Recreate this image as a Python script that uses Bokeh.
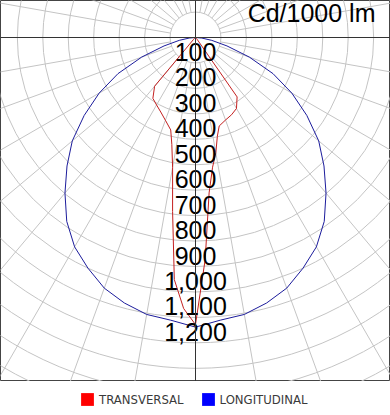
import numpy as np
from bokeh.plotting import figure
from bokeh.layouts import column
from bokeh.models import Range1d, Span, Label, Legend, LegendItem, ColumnDataSource
from bokeh.core.properties import value
from bokeh.embed import file_html
from bokeh.resources import INLINE

# ---------------- data ----------------
ring_values = [100, 200, 300, 400, 500, 600, 700, 800, 900, 1000, 1100, 1200]
ring_labels = ["100", "200", "300", "400", "500", "600", "700", "800", "900",
               "1,000", "1,100", "1,200"]

# LONGITUDINAL (symmetric), angle from nadir in degrees -> cd/1000 lm
blue_angles = [0, 5, 10, 15, 20, 25, 30, 35, 40, 45, 50, 55, 60, 65, 70, 75, 80, 85, 90]
blue_cd = [1138, 1115, 1105, 1080, 1048, 1000, 950, 882, 798, 714, 632, 534, 437,
           336, 225, 128, 65, 25, 0]

# TRANSVERSAL, negative angles = left half
red_angles = [-90, -85, -80, -75, -70, -65, -60, -55, -50, -45, -40, -35, -30, -25,
              -20, -15, -12.5, -10, -7.5, -5, -2.5, 0, 2.5, 5, 7.5, 10, 12.5, 15,
              20, 25, 30, 35, 40, 45, 50, 55, 60, 65, 70, 75, 80, 85, 90]
red_cd = [0, 0, 0, 0, 0, 0, 0, 2, 5, 12, 250, 292, 306, 323,
          346, 376, 430, 518, 690, 955, 1066, 1128, 873, 613, 514, 460, 397, 360,
          345, 335, 322, 285, 12, 5, 2, 0, 0, 0, 0, 0, 0, 0, 0]

unit_text = "Cd/1000 lm"
series_names = ["TRANSVERSAL", "LONGITUDINAL"]
series_line_colors = ["#c42020", "#1c1c9c"]
series_key_colors = ["#ff0000", "#0000ff"]

# ---------------- helpers ----------------
def polar_xy(angles_deg, values):
    a = np.radians(np.asarray(angles_deg, dtype=float))
    r = np.asarray(values, dtype=float)
    return r * np.sin(a), -r * np.cos(a)

PX_PER_CD = 0.2545
FRAME_W, FRAME_H = 390, 381
CX, CY = 195, 37  # centre position within the frame (px from left / top)

x_start = -CX / PX_PER_CD
x_end = (FRAME_W - CX) / PX_PER_CD
y_end = CY / PX_PER_CD
y_start = -(FRAME_H - CY) / PX_PER_CD

chart = figure(width=FRAME_W, height=FRAME_H, output_backend="svg", toolbar_location=None,
               x_range=Range1d(x_start, x_end), y_range=Range1d(y_start, y_end),
               x_axis_location=None, y_axis_location=None,
               min_border_left=0, min_border_right=0, min_border_top=0, min_border_bottom=0)
chart.grid.visible = False
chart.outline_line_color = "#444444"
chart.outline_line_width = 1
chart.background_fill_color = "white"
chart.border_fill_color = "white"

# polar grid: rings
grid_r = np.arange(100, 1700, 100)
chart.circle(x=np.zeros(len(grid_r)), y=np.zeros(len(grid_r)), radius=grid_r,
             fill_color=None, line_color="#c4c4c4", line_width=1)

# polar grid: spokes every 10 degrees
spoke_deg = np.array([d for d in range(0, 360, 10) if d % 90 != 0], dtype=float)
sx0, sy0 = polar_xy(spoke_deg, np.full(len(spoke_deg), 100.0))
sx1, sy1 = polar_xy(spoke_deg, np.full(len(spoke_deg), 1800.0))
chart.segment(x0=sx0, y0=sy0, x1=sx1, y1=sy1, line_color="#c4c4c4", line_width=1)

# main axes
chart.add_layout(Span(location=0, dimension="width", line_color="#333333", line_width=1))
chart.add_layout(Span(location=0, dimension="height", line_color="#333333", line_width=1))

# curves
bl_angles = [-a for a in blue_angles[:0:-1]] + blue_angles
bl_vals = blue_cd[:0:-1] + blue_cd
bx, by = polar_xy(bl_angles, bl_vals)
rx, ry = polar_xy(red_angles, red_cd)
chart.line(x=rx, y=ry, line_color=series_line_colors[0], line_width=1)
chart.line(x=bx, y=by, line_color=series_line_colors[1], line_width=1)

# ring labels (sit just above their ring)
lab_src = ColumnDataSource(dict(x=[0] * len(ring_values),
                                y=[-v for v in ring_values],
                                t=ring_labels))
chart.text(x="x", y="y", text="t", source=lab_src, text_align="center",
           text_baseline="middle", y_offset=-11, text_font=value("Liberation Sans"),
           text_font_size="25px", text_color="black")

# unit label
chart.add_layout(Label(x=(375 - CX) / PX_PER_CD, y=(CY - 12.5) / PX_PER_CD, text=unit_text,
                       text_align="right", text_baseline="middle",
                       text_font="Liberation Sans", text_font_size="25px",
                       text_color="black"))

# legend strip below the chart
LEG_H = 34
leg = figure(width=FRAME_W, height=LEG_H, output_backend="svg", toolbar_location=None,
             x_range=Range1d(0, 1), y_range=Range1d(0, 1),
             x_axis_location=None, y_axis_location=None,
             min_border_left=0, min_border_right=0, min_border_top=0, min_border_bottom=0)
leg.grid.visible = False
leg.outline_line_color = None
leg.border_fill_color = "white"
key_r = leg.quad(left=[np.nan], right=[np.nan], top=[np.nan], bottom=[np.nan],
                 fill_color=series_key_colors[0], line_color=None)
key_b = leg.quad(left=[np.nan], right=[np.nan], top=[np.nan], bottom=[np.nan],
                 fill_color=series_key_colors[1], line_color=None)
legend = Legend(items=[LegendItem(label=series_names[0], renderers=[key_r]),
                       LegendItem(label=series_names[1], renderers=[key_b])],
                orientation="horizontal", location=(79, 8),
                glyph_width=16, glyph_height=16, label_standoff=4, spacing=16,
                padding=0, margin=0, border_line_color=None, background_fill_alpha=0,
                label_text_font="DejaVu Sans Condensed", label_text_font_size="13px",
                label_text_color="#3a3a3a", label_height=16)
leg.add_layout(legend, "center")

p = column(chart, leg, spacing=0)
open("out.html", "w").write(file_html(p, INLINE))
